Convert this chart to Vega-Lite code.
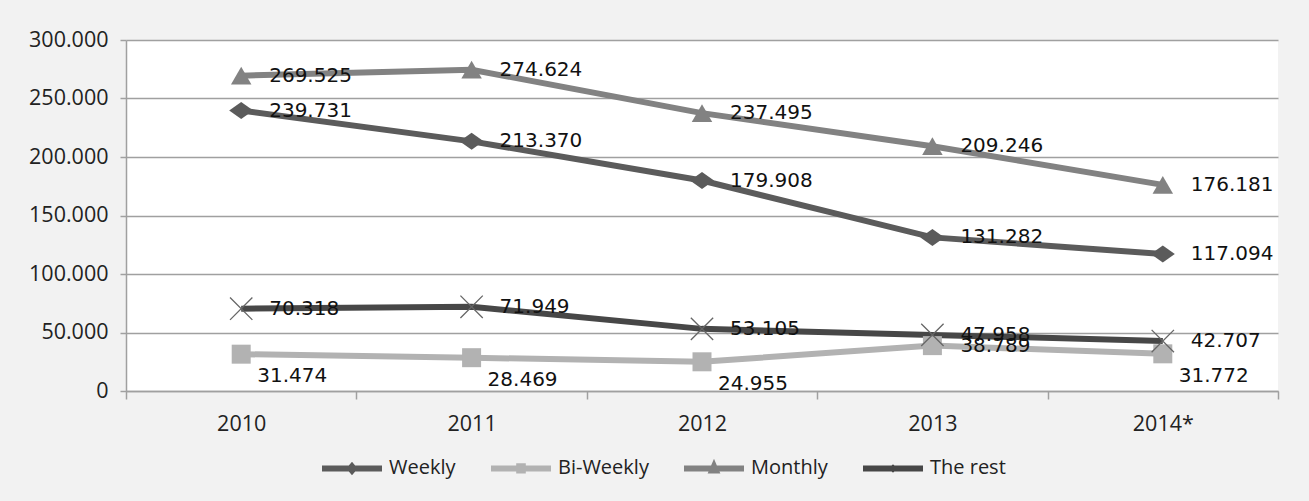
{
  "$schema": "https://vega.github.io/schema/vega-lite/v6.json",
  "width": 1152,
  "height": 351,
  "autosize": {"type": "none"},
  "padding": {"left": 126, "top": 40, "right": 31, "bottom": 110},
  "background": "#f2f2f2",
  "config": {
    "view": {"fill": "white", "stroke": null},
    "locale": {
      "number": {"decimal": ",", "thousands": ".", "grouping": [3], "currency": ["", " €"]}
    },
    "axis": {
      "labelFont": "Open Sans",
      "labelFontSize": 21.5,
      "labelColor": "#222222",
      "domainColor": "#a0a0a0",
      "domainWidth": 1.5,
      "tickColor": "#a0a0a0",
      "tickWidth": 1.5,
      "title": null
    }
  },
  "data": {
    "values": [
      {"year": "2010", "series": "Weekly", "value": 239731},
      {"year": "2011", "series": "Weekly", "value": 213370},
      {"year": "2012", "series": "Weekly", "value": 179908},
      {"year": "2013", "series": "Weekly", "value": 131282},
      {"year": "2014*", "series": "Weekly", "value": 117094},
      {"year": "2010", "series": "Bi-Weekly", "value": 31474},
      {"year": "2011", "series": "Bi-Weekly", "value": 28469},
      {"year": "2012", "series": "Bi-Weekly", "value": 24955},
      {"year": "2013", "series": "Bi-Weekly", "value": 38789},
      {"year": "2014*", "series": "Bi-Weekly", "value": 31772},
      {"year": "2010", "series": "Monthly", "value": 269525},
      {"year": "2011", "series": "Monthly", "value": 274624},
      {"year": "2012", "series": "Monthly", "value": 237495},
      {"year": "2013", "series": "Monthly", "value": 209246},
      {"year": "2014*", "series": "Monthly", "value": 176181},
      {"year": "2010", "series": "The rest", "value": 70318},
      {"year": "2011", "series": "The rest", "value": 71949},
      {"year": "2012", "series": "The rest", "value": 53105},
      {"year": "2013", "series": "The rest", "value": 47958},
      {"year": "2014*", "series": "The rest", "value": 42707}
    ]
  },
  "encoding": {
    "x": {
      "field": "year",
      "type": "ordinal",
      "scale": {"type": "band", "paddingInner": 0, "paddingOuter": 0},
      "axis": {
        "labelAngle": 0,
        "tickBand": "extent",
        "tickSize": 8,
        "labelPadding": 14
      }
    },
    "y": {
      "field": "value",
      "type": "quantitative",
      "scale": {"domain": [0, 300000], "nice": false},
      "axis": {
        "values": [0, 50000, 100000, 150000, 200000, 250000, 300000],
        "format": ",d",
        "grid": true,
        "gridColor": "#a0a0a0",
        "gridWidth": 1.5,
        "tickSize": 6,
        "labelPadding": 12
      }
    }
  },
  "layer": [
    {
      "mark": {"type": "line", "strokeWidth": 6},
      "encoding": {
        "color": {
          "field": "series",
          "type": "nominal",
          "sort": ["Weekly", "Bi-Weekly", "Monthly", "The rest"],
          "scale": {
            "domain": ["Weekly", "Bi-Weekly", "Monthly", "The rest"],
            "range": ["#5b5b5b", "#b2b2b2", "#828282", "#474747"]
          },
          "legend": {
            "title": null,
            "orient": "none",
            "legendX": 193,
            "legendY": 395,
            "direction": "horizontal",
            "labelFont": "Open Sans",
            "labelFontSize": 20,
            "labelColor": "#222222",
            "labelOffset": 4,
            "columnPadding": 23,
            "symbolSize": 3600,
            "symbolStrokeWidth": 6,
            "encode": {
              "symbols": {
                "update": {
                  "shape": {
                    "signal": "datum.value === 'Weekly' ? 'M-1,0H1M0,-0.07L0.06,0L0,0.07L-0.06,0Z' : datum.value === 'Bi-Weekly' ? 'M-1,0H1M-0.06,-0.07H0.06V0.07H-0.06Z' : datum.value === 'Monthly' ? 'M-1,0H1M0,-0.07L0.06,0.07H-0.06Z' : 'M-1,0H1M-0.06,-0.07L0.06,0.07M-0.06,0.07L0.06,-0.07'"
                  }
                }
              }
            }
          }
        }
      }
    },
    {
      "transform": [{"filter": "datum.series === 'Weekly'"}],
      "mark": {
        "type": "point",
        "shape": "M-1.2,0L0,-0.85L1.2,0L0,0.85Z",
        "size": 400,
        "filled": true,
        "opacity": 1,
        "color": "#5b5b5b"
      }
    },
    {
      "transform": [{"filter": "datum.series === 'Bi-Weekly'"}],
      "mark": {
        "type": "point",
        "shape": "square",
        "size": 361,
        "filled": true,
        "opacity": 1,
        "color": "#b2b2b2"
      }
    },
    {
      "transform": [{"filter": "datum.series === 'Monthly'"}],
      "mark": {
        "type": "point",
        "shape": "triangle-up",
        "size": 420,
        "filled": true,
        "opacity": 1,
        "color": "#828282"
      }
    },
    {
      "transform": [{"filter": "datum.series === 'The rest'"}],
      "mark": {
        "type": "point",
        "shape": "M-1,-1L1,1M-1,1L1,-1",
        "size": 500,
        "filled": false,
        "opacity": 1,
        "strokeWidth": 1.3,
        "color": "#666666"
      }
    },
    {
      "transform": [{"filter": "datum.series !== 'Bi-Weekly' || datum.year === '2013'"}],
      "mark": {
        "type": "text",
        "align": "left",
        "baseline": "middle",
        "dx": 28,
        "font": "DejaVu Sans",
        "fontSize": 20,
        "color": "#111111"
      },
      "encoding": {
        "text": {"field": "value", "type": "quantitative", "format": ",d"}
      }
    },
    {
      "transform": [{"filter": "datum.series === 'Bi-Weekly' && datum.year !== '2013'"}],
      "mark": {
        "type": "text",
        "align": "left",
        "baseline": "middle",
        "dx": 16,
        "dy": 22,
        "font": "DejaVu Sans",
        "fontSize": 20,
        "color": "#111111"
      },
      "encoding": {
        "text": {"field": "value", "type": "quantitative", "format": ",d"}
      }
    }
  ]
}
